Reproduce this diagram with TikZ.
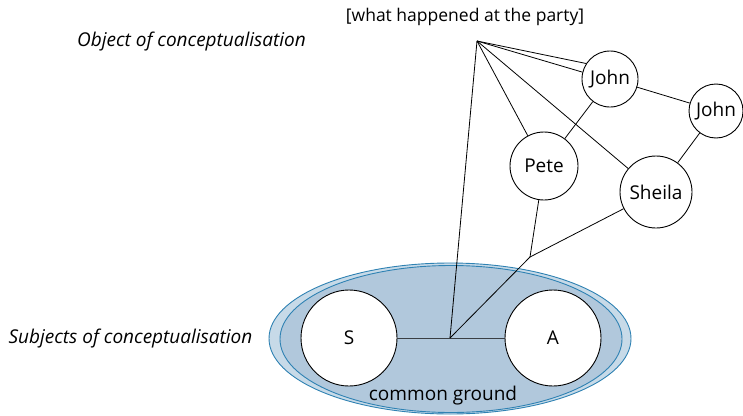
\documentclass[tikz,border=0pt]{standalone}
\usepackage{fontspec}
\setmainfont{Open Sans}
\usetikzlibrary{shapes.geometric}
\definecolor{outerfill}{HTML}{C7DAE8}
\definecolor{innerfill}{HTML}{B1C8DC}
\definecolor{rimblue}{HTML}{2F82B3}
\definecolor{linkgray}{HTML}{3A3F44}
\tikzset{
  person/.style={circle,draw=black,fill=white,line width=0.9pt,inner sep=0pt,font=\fontsize{19}{22}\selectfont},
  subject/.style={circle,draw=black,fill=white,line width=0.9pt,inner sep=0pt,minimum size=96pt,font=\fontsize{19}{22}\selectfont},
  link/.style={draw=black,line width=0.8pt},
  plain/.style={font=\fontsize{17.5}{20}\selectfont,inner sep=0pt},
  slanted/.style={font=\fontsize{19}{22}\selectfont\itshape,inner sep=0pt},
  cg/.style={ellipse,inner sep=0pt,line width=0.9pt,draw=rimblue}
}
\begin{document}
\begin{tikzpicture}[x=1pt,y=-1pt]
\useasboundingbox (0,0) rectangle (743,415);
% common ground ellipses
\node[cg,fill=outerfill,minimum width=362pt,minimum height=151pt] (outer) at (450,338.5) {};
\node[cg,fill=innerfill,minimum width=342pt,minimum height=147pt] (inner) at (451,339) {};
\node[plain,font=\fontsize{19}{22}\selectfont] (cgtext) at (443,396) {common ground};
% subjects
\node[subject] (s) at (349,338) {S};
\node[subject] (a) at (553,338) {A};
\coordinate (centre) at (450,338);
\draw[draw=linkgray,line width=1pt] (s) -- (a);
% texts
\node[plain] (what) at (465,17) {[what happened at the party]};
\node[slanted] (obj) at (191.5,42) {Object of conceptualisation};
\node[slanted] (subj) at (130.5,339) {Subjects of conceptualisation};
% participants
\node[person,minimum size=56pt] (john1) at (610,79) {John};
\node[person,minimum size=54pt] (john2) at (716,111) {John};
\node[person,minimum size=68pt] (pete) at (544,166) {Pete};
\node[person,minimum size=72pt] (sheila) at (656,192) {Sheila};
\coordinate (hub) at (477,41);
\coordinate (junction) at (530,257);
% connectors
\draw[link] (hub) -- (centre);
\draw[link] (hub) -- (pete);
\draw[link] (hub) -- (sheila);
\draw[link] (hub) -- (john1.147);
\draw[link] (hub) -- (john1.166);
\draw[link] (john1) -- (pete);
\draw[link] (john1) -- (john2);
\draw[link] (john2) -- (sheila);
\draw[link] (pete) -- (junction);
\draw[link] (sheila) -- (junction);
\draw[link] (junction) -- (centre);
\end{tikzpicture}
\end{document}
